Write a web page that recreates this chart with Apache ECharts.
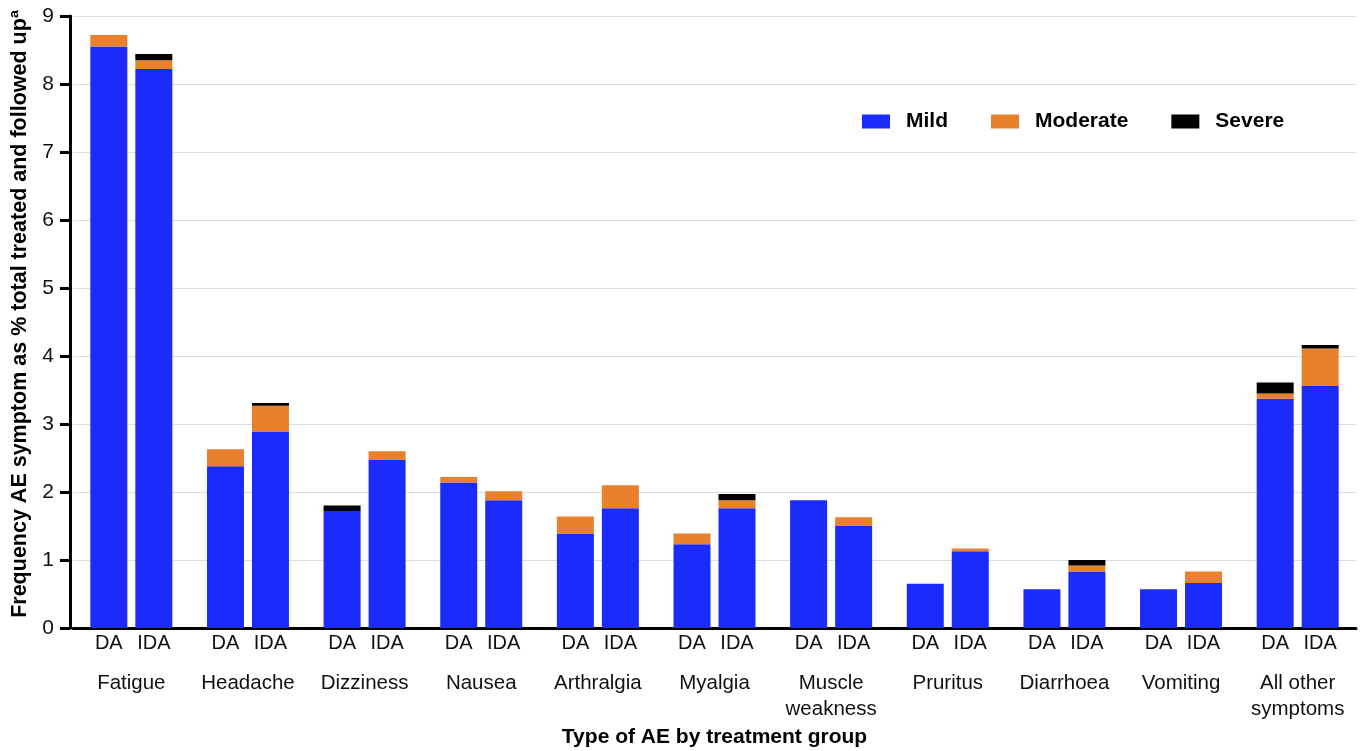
<!DOCTYPE html>
<html>
<head>
<meta charset="utf-8">
<title>Frequency of AE symptoms by treatment group</title>
<script src="https://cdn.jsdelivr.net/npm/echarts@6/dist/echarts.min.js"></script>
<style>
  html, body { margin: 0; padding: 0; background: #ffffff; }
  #chart { width: 1363px; height: 751px; }
</style>
</head>
<body>
<div id="chart"></div>
<script>
// AE symptom categories (x axis)
const categories = ['Fatigue', 'Headache', 'Dizziness', 'Nausea', 'Arthralgia', 'Myalgia',
  'Muscle\nweakness', 'Pruritus', 'Diarrhoea', 'Vomiting', 'All other\nsymptoms'];

// Treatment groups drawn side by side within each category
const groupLabels = ['DA', 'IDA'];

// Severity levels (stack order, bottom to top)
const severityNames = ['Mild', 'Moderate', 'Severe'];
const severityColors = ['#1a2bfb', '#e8802c', '#000000'];

// DA group: frequency (%) by severity
const daMild     = [8.55, 2.38, 1.72, 2.14, 1.39, 1.23, 1.88, 0.65, 0.57, 0.57, 3.37];
const daModerate = [0.17, 0.25, 0.00, 0.08, 0.25, 0.16, 0.00, 0.00, 0.00, 0.00, 0.08];
const daSevere   = [0.00, 0.00, 0.08, 0.00, 0.00, 0.00, 0.00, 0.00, 0.00, 0.00, 0.16];

// IDA group: frequency (%) by severity
const idaMild     = [8.22, 2.89, 2.47, 1.88, 1.76, 1.76, 1.50, 1.13, 0.83, 0.66, 3.56];
const idaModerate = [0.13, 0.38, 0.13, 0.13, 0.34, 0.12, 0.13, 0.04, 0.09, 0.17, 0.55];
const idaSevere   = [0.09, 0.04, 0.00, 0.00, 0.00, 0.09, 0.00, 0.00, 0.08, 0.00, 0.05];

// Y axis ticks
const yMin = 0, yMax = 9, yStep = 1;

const FONT = '"Liberation Sans", Arial, Helvetica, sans-serif';

const groups = [
  { stack: groupLabels[0], values: [daMild, daModerate, daSevere] },
  { stack: groupLabels[1], values: [idaMild, idaModerate, idaSevere] }
];

const series = [];
groups.forEach(function (g) {
  g.values.forEach(function (vals, i) {
    const s = {
      name: severityNames[i],
      type: 'bar',
      stack: g.stack,
      data: vals,
      barWidth: 37,
      barGap: '21.6%',
      itemStyle: { color: severityColors[i] },
      emphasis: { disabled: true }
    };
    if (i === 0) {
      // group name printed under each bar
      s.label = {
        show: true,
        position: 'bottom',
        distance: 5,
        formatter: g.stack,
        fontFamily: FONT,
        fontSize: 20,
        color: '#111111'
      };
    }
    series.push(s);
  });
});

const chart = echarts.init(document.getElementById('chart'), null, { renderer: 'canvas' });

chart.setOption({
  animation: false,
  backgroundColor: '#ffffff',
  textStyle: { fontFamily: FONT },
  grid: { left: 73, right: 7, top: 16, bottom: 123, containLabel: false, outerBoundsMode: 'none' },
  legend: {
    data: severityNames,
    left: 862,
    top: 111,
    padding: 0,
    itemWidth: 28,
    itemHeight: 14,
    itemGap: 43,
    icon: 'rect',
    selectedMode: false,
    textStyle: {
      fontFamily: FONT,
      fontSize: 21,
      fontWeight: 'bold',
      color: '#000000',
      padding: [0, 0, 0, 11]
    }
  },
  xAxis: {
    type: 'category',
    data: categories,
    axisLine: { show: true, lineStyle: { color: '#000000', width: 3 } },
    axisTick: { show: false },
    axisLabel: {
      margin: 42,
      fontFamily: FONT,
      fontSize: 20.5,
      lineHeight: 26,
      color: '#111111',
      interval: 0
    },
    name: 'Type of AE by treatment group',
    nameLocation: 'middle',
    nameGap: 99,
    nameTextStyle: {
      fontFamily: FONT,
      fontSize: 21,
      fontWeight: 'bold',
      color: '#000000'
    }
  },
  yAxis: {
    type: 'value',
    min: yMin,
    max: yMax,
    interval: yStep,
    offset: 3,
    axisLine: { show: true, lineStyle: { color: '#000000', width: 3 } },
    axisTick: { show: true, length: 10, lineStyle: { color: '#000000', width: 3 } },
    axisLabel: {
      margin: 16,
      fontFamily: FONT,
      fontSize: 21,
      color: '#111111'
    },
    splitLine: { show: true, lineStyle: { color: '#dddddd', width: 1 } },
    name: 'Frequency AE symptom as % total treated and followed up\u00aa',
    nameLocation: 'middle',
    nameRotate: 90,
    nameGap: 29,
    nameTextStyle: {
      fontFamily: FONT,
      fontSize: 21.5,
      fontWeight: 'bold',
      color: '#000000',
      padding: [0, 0, 0, 16]
    }
  },
  series: series
});
</script>
</body>
</html>
